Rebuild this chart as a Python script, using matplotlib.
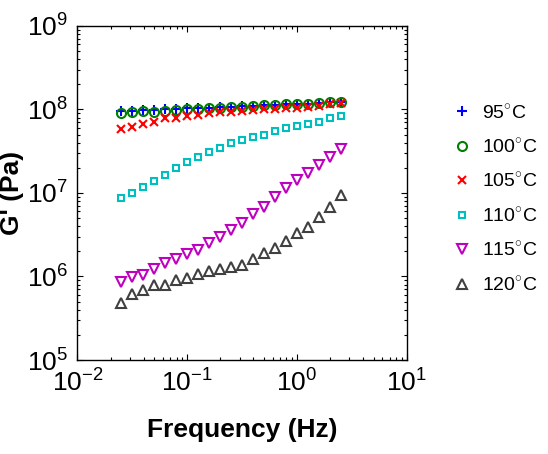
import matplotlib
matplotlib.use('Agg')
import matplotlib.pyplot as plt

plt.rcParams['font.family'] = ['Liberation Sans', 'DejaVu Sans']
plt.rcParams['mathtext.fontset'] = 'custom'
plt.rcParams['mathtext.rm'] = 'Liberation Sans'
plt.rcParams['axes.unicode_minus'] = False

# frequency (Hz)
freq = [0.0251, 0.0316, 0.0398, 0.0501, 0.0631, 0.0794, 0.1, 0.126, 0.158, 0.2, 0.251,
        0.316, 0.398, 0.501, 0.631, 0.794, 1.0, 1.26, 1.58, 2.0, 2.51]

# G' (Pa) for each temperature
g95 = [9.5e7, 9.6e7, 9.9e7, 9.8e7, 1.0e8, 1.01e8, 1.03e8, 1.04e8, 1.05e8, 1.07e8, 1.08e8,
       1.09e8, 1.11e8, 1.12e8, 1.13e8, 1.15e8, 1.16e8, 1.17e8, 1.2e8, 1.21e8, 1.22e8]
g100 = [9.16e7, 9.26e7, 9.6e7, 9.41e7, 9.68e7, 9.86e7, 1.005e8, 1.02e8, 1.03e8, 1.05e8, 1.06e8,
        1.08e8, 1.1e8, 1.12e8, 1.13e8, 1.15e8, 1.16e8, 1.17e8, 1.2e8, 1.21e8, 1.22e8]
g105 = [5.84e7, 6.22e7, 6.65e7, 7.14e7, 7.85e7, 7.8e7, 8.43e7, 8.59e7, 9.0e7, 9.25e7, 9.41e7,
        9.6e7, 9.86e7, 1.005e8, 1.014e8, 1.03e8, 1.05e8, 1.08e8, 1.1e8, 1.15e8, 1.19e8]
g110 = [8.65e6, 9.9e6, 1.19e7, 1.39e7, 1.64e7, 1.98e7, 2.37e7, 2.72e7, 3.07e7, 3.49e7, 3.94e7,
        4.31e7, 4.65e7, 4.95e7, 5.53e7, 5.96e7, 6.34e7, 6.65e7, 7.14e7, 7.85e7, 8.36e7]
g115 = [8.67e5, 9.78e5, 1.04e6, 1.23e6, 1.44e6, 1.61e6, 1.85e6, 2.08e6, 2.5e6, 2.95e6, 3.6e6,
        4.41e6, 5.61e6, 6.86e6, 8.84e6, 1.14e7, 1.43e7, 1.75e7, 2.16e7, 2.72e7, 3.34e7]
g120 = [4.78e5, 6.17e5, 6.89e5, 7.91e5, 7.85e5, 9.08e5, 9.51e5, 1.07e6, 1.17e6, 1.23e6, 1.29e6,
        1.37e6, 1.61e6, 1.93e6, 2.21e6, 2.68e6, 3.29e6, 3.95e6, 5.2e6, 6.86e6, 9.47e6]

series = [g95, g100, g105, g110, g115, g120]
labels = ['95$^{\\circ}$C', '100$^{\\circ}$C', '105$^{\\circ}$C',
          '110$^{\\circ}$C', '115$^{\\circ}$C', '120$^{\\circ}$C']
markers = ['+', 'o', 'x', 's', 'v', '^']
colors = ['#0000ff', '#008000', '#ff0000', '#00bfbf', '#bf00bf', '#404040']
msizes = [7.5, 6.5, 6, 5, 6.5, 6.5]

fig = plt.figure(figsize=(5.48, 4.54), dpi=100)
ax = fig.add_axes([0.1414, 0.207, 0.6006, 0.736])

for g, lab, m, c, ms in zip(series, labels, markers, colors, msizes):
    ax.plot(freq, g, linestyle='none', marker=m, color=c, markersize=ms,
            markerfacecolor='none', markeredgewidth=1.5, label=lab)

ax.set_xscale('log')
ax.set_yscale('log')
ax.set_xlim(1e-2, 1e1)
ax.set_ylim(1e5, 1e9)
ax.tick_params(which='both', direction='in', top=True, right=True, labelsize=19, width=0.8)
ax.tick_params(which='major', length=4, pad=7)
ax.tick_params(which='minor', length=2)
for s in ax.spines.values():
    s.set_linewidth(1.0)

ax.set_xlabel('Frequency (Hz)', fontsize=19, fontweight='bold', labelpad=15)
ax.set_ylabel("G' (Pa)", fontsize=19, fontweight='bold', labelpad=2)

fig.legend(loc='upper left', bbox_to_anchor=(0.812, 0.79), frameon=False, fontsize=14,
           labelspacing=0.8, handletextpad=0.5, handlelength=1.0, borderaxespad=0)

plt.savefig('out.png', dpi=100)
